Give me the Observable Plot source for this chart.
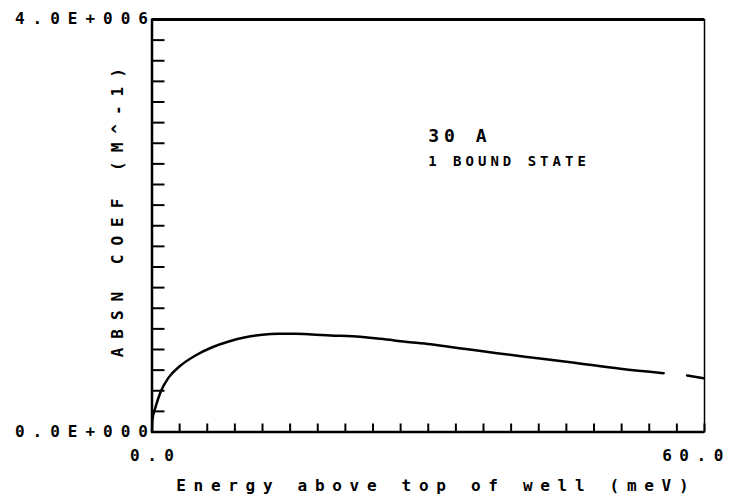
<!DOCTYPE html>
<html><head><meta charset="utf-8">
<script src="https://cdn.jsdelivr.net/npm/d3@7"></script>
<script src="https://cdn.jsdelivr.net/npm/@observablehq/plot@0.6"></script>
<style>
body{margin:0;background:#fff}
svg text{font-family:"DejaVu Sans Mono",monospace;font-weight:bold;fill:#000}
text[aria-label="ytick-labels"]{letter-spacing:8px}
text[aria-label="xtick-labels"]{letter-spacing:7.5px}
text[aria-label="xtitle"]{letter-spacing:7.7px}
text[aria-label="ytitle"]{letter-spacing:9px}
text[aria-label="note-big"]{letter-spacing:5px}
text[aria-label="note-small"]{letter-spacing:4px}
</style>
</head><body><div id="chart"></div>
<script>
// Energy above top of well (meV)
const energy = [0, 0.05, 0.38, 0.92, 1.82, 2.91, 4.72, 6.54, 8.34, 10.15, 11.97, 13.77, 15.58, 17.39, 19.38, 21.74, 24.81, 27.5, 30.24, 33.85, 37.48, 40.5, 45.44, 50.87, 55.57, 56.8, 58.11, 59.91];
// Absorption coefficient (M^-1); null marks the pen gap
const absn = [0, 120000, 240000, 386000, 530000, 630000, 742000, 822000, 878000, 919000, 943000, 952000, 952000, 946000, 936000, 929000, 904000, 876000, 850000, 807000, 764000, 730000, 677000, 613000, 570000, null, 548000, 522000];

const xTicks = [0, 3, 6, 9, 12, 15, 18, 21, 24, 27, 30, 33, 36, 39, 42, 45, 48, 51, 54, 57, 60];
const yTicks = [0, 200000, 400000, 600000, 800000, 1000000, 1200000, 1400000, 1600000, 1800000, 2000000, 2200000, 2400000, 2600000, 2800000, 3000000, 3200000, 3400000, 3600000, 3800000, 4000000];
const yLabelValues = [0, 4000000];
const yLabelTexts = ["0.0E+000", "4.0E+006"];
const xLabelFirst = [0];
const xLabelFirstText = ["0.0"];
const xLabelLast = [60];
const xLabelLastText = ["60.0"];
const xTitle = "Energy above top of well (meV)";
const yTitle = "ABSN COEF (M^-1)";
const noteX = [30];
const noteBigY = [2870000];
const noteBigText = ["30 A"];
const noteSmallY = [2620000];
const noteSmallText = ["1 BOUND STATE"];

const data = energy.map((e, i) => ({e, a: absn[i]}));
const tag = (name) => () => name;

const plot = Plot.plot({
  width: 730,
  height: 504,
  marginLeft: 151.5,
  marginRight: 26,
  marginTop: 19,
  marginBottom: 72.5,
  x: {domain: [0, 60]},
  y: {domain: [0, 4000000]},
  style: {background: "#fff", color: "#000"},
  marks: [
    Plot.frame({stroke: "#000", strokeWidth: 1.5}),
    Plot.axisY({ticks: yTicks, tickSize: -13, strokeWidth: 2, tickFormat: () => "", label: null}),
    Plot.axisX({ticks: xTicks, tickSize: -8, strokeWidth: 2, tickFormat: () => "", label: null}),
    Plot.ruleX([0], {stroke: "#000", strokeWidth: 2.5}),
    Plot.ruleY([0], {stroke: "#000", strokeWidth: 2.5}),
    Plot.ruleY([4000000], {stroke: "#000", strokeWidth: 3}),
    Plot.line(data, {x: "e", y: "a", stroke: "#000", strokeWidth: 2.5, curve: "monotone-x"}),
    Plot.text(yLabelValues, {y: d => d, text: (d, i) => yLabelTexts[i], frameAnchor: "left", textAnchor: "end", dx: 4, dy: -0.5, fontSize: 16, ariaLabel: tag("ytick-labels")}),
    Plot.text(xLabelFirst, {x: d => d, text: (d, i) => xLabelFirstText[i], frameAnchor: "bottom", dy: 28.5, dx: 3.7, fontSize: 16, ariaLabel: tag("xtick-labels")}),
    Plot.text(xLabelLast, {x: d => d, text: (d, i) => xLabelLastText[i], frameAnchor: "bottom", dy: 28.5, dx: -8, fontSize: 16, ariaLabel: tag("xtick-labels")}),
    Plot.text([xTitle], {text: d => d, frameAnchor: "bottom", dy: 58.5, dx: 8, fontSize: 16, ariaLabel: tag("xtitle")}),
    Plot.text([yTitle], {text: d => d, frameAnchor: "left", textAnchor: "middle", rotate: -90, dx: -34, dy: -17.5, fontSize: 16, ariaLabel: tag("ytitle")}),
    Plot.text(noteX, {x: d => d, y: (d, i) => noteBigY[i], text: (d, i) => noteBigText[i], textAnchor: "start", fontSize: 18, ariaLabel: tag("note-big")}),
    Plot.text(noteX, {x: d => d, y: (d, i) => noteSmallY[i], text: (d, i) => noteSmallText[i], textAnchor: "start", fontSize: 14, ariaLabel: tag("note-small")})
  ]
});
document.getElementById("chart").appendChild(plot);
</script>
</body></html>
